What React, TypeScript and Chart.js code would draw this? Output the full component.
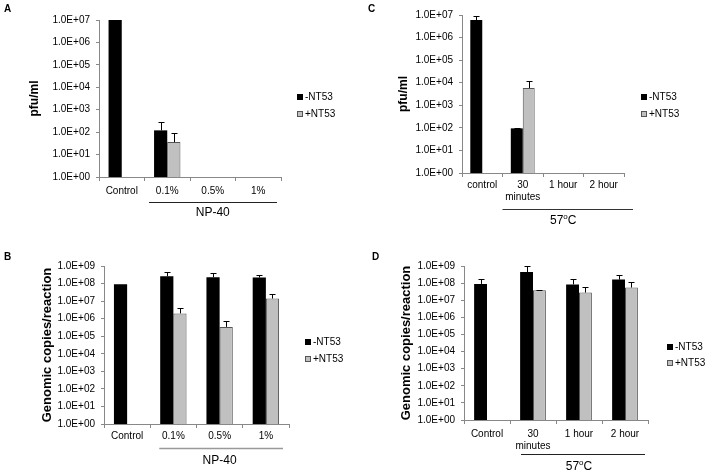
import React, { useEffect, useRef } from "react";
import { Chart, registerables } from "chart.js";

Chart.register(...registerables);

// ---------- data ----------
const SERIES_LABELS = ["-NT53", "+NT53"];

const CATS_A = ["Control", "0.1%", "0.5%", "1%"];
const A_MINUS = [1.0e7, 1.2e2, null, null];
const A_MINUS_ERR = [null, 2.8e2, null, null];
const A_PLUS = [null, 3.6e1, null, null];
const A_PLUS_ERR = [null, 9.0e1, null, null];

const CATS_B = ["Control", "0.1%", "0.5%", "1%"];
const B_MINUS = [9.2e7, 2.6e8, 2.3e8, 2.2e8];
const B_MINUS_ERR = [null, 4.5e8, 4.2e8, 3.1e8];
const B_PLUS = [null, 2.0e6, 3.4e5, 1.4e7];
const B_PLUS_ERR = [null, 4.2e6, 7.5e5, 2.7e7];

const CATS_C = ["control", ["30", "minutes"], "1 hour", "2 hour"];
const C_MINUS = [6.0e6, 9.5e1, null, null];
const C_MINUS_ERR = [9.0e6, 1.0e2, null, null];
const C_PLUS = [null, 5.8e3, null, null];
const C_PLUS_ERR = [null, 1.2e4, null, null];

const CATS_D = ["Control", ["30", "minutes"], "1 hour", "2 hour"];
const D_MINUS = [9.0e7, 4.4e8, 8.4e7, 1.6e8];
const D_MINUS_ERR = [1.8e8, 9.5e8, 1.8e8, 3.1e8];
const D_PLUS = [null, 3.8e7, 2.8e7, 5.5e7];
const D_PLUS_ERR = [null, 4.0e7, 6.0e7, 1.2e8];

const Y_TICKS_7 = [1, 1e1, 1e2, 1e3, 1e4, 1e5, 1e6, 1e7];
const Y_LABELS_7 = ["1.0E+00", "1.0E+01", "1.0E+02", "1.0E+03", "1.0E+04", "1.0E+05", "1.0E+06", "1.0E+07"];
const Y_TICKS_9 = [1, 1e1, 1e2, 1e3, 1e4, 1e5, 1e6, 1e7, 1e8, 1e9];
const Y_LABELS_9 = ["1.0E+00", "1.0E+01", "1.0E+02", "1.0E+03", "1.0E+04", "1.0E+05", "1.0E+06", "1.0E+07", "1.0E+08", "1.0E+09"];

const Y_TITLE_PFU = "pfu/ml";
const Y_TITLE_GEN = "Genomic copies/reaction";
const GROUP_NP40 = [{ t: "NP-40" }];
const GROUP_57C = [{ t: "57" }, { t: "o", sup: true }, { t: "C" }];

const FONT = "'Liberation Sans', Arial, Helvetica, sans-serif";

// ---------- plugins ----------
const errorBarPlugin = {
  id: "errorBars",
  afterDatasetsDraw(chart: any) {
    const ctx = chart.ctx;
    const ys = chart.scales.y;
    chart.data.datasets.forEach((ds: any, i: number) => {
      const errs = ds.errUpper;
      if (!errs) return;
      const meta = chart.getDatasetMeta(i);
      meta.data.forEach((bar: any, j: number) => {
        const v = ds.data[j];
        const e = errs[j];
        if (v == null || e == null) return;
        const x = Math.round(bar.x) + 0.5;
        const y0 = bar.y;
        const y1 = Math.round(ys.getPixelForValue(e)) + 0.5;
        ctx.save();
        ctx.strokeStyle = "#000";
        ctx.lineWidth = 1;
        ctx.beginPath();
        ctx.moveTo(x, y0);
        ctx.lineTo(x, y1);
        ctx.moveTo(x - 3, y1);
        ctx.lineTo(x + 3, y1);
        ctx.stroke();
        ctx.restore();
      });
    });
  },
};

const groupPlugin = {
  id: "groupBracket",
  afterDraw(chart: any, _args: any, opts: any) {
    if (!opts || !opts.parts) return;
    const ctx = chart.ctx;
    const xs = chart.scales.x;
    const half = (xs.getPixelForValue(1) - xs.getPixelForValue(0)) / 2;
    const x0 = xs.getPixelForValue(opts.from) - half + opts.insetLeft;
    const x1 = xs.getPixelForValue(opts.to) + half - opts.insetRight;
    const base = chart.chartArea.bottom;
    const ly = Math.round(base + opts.lineOffset) + 0.5;
    ctx.save();
    ctx.strokeStyle = opts.lineColor;
    ctx.lineWidth = opts.lineWidth;
    ctx.beginPath();
    ctx.moveTo(x0, ly);
    ctx.lineTo(x1, ly);
    ctx.stroke();
    // text
    const cx = (xs.getPixelForValue(opts.from) - half + xs.getPixelForValue(opts.to) + half) / 2 + (opts.textShift || 0);
    const ty = base + opts.textOffset;
    const mainFont = `12px ${FONT}`;
    const supFont = `8px ${FONT}`;
    let total = 0;
    const widths = opts.parts.map((p: any) => {
      ctx.font = p.sup ? supFont : mainFont;
      const w = ctx.measureText(p.t).width;
      total += w;
      return w;
    });
    let x = cx - total / 2;
    ctx.fillStyle = "#000";
    ctx.textBaseline = "middle";
    ctx.textAlign = "left";
    opts.parts.forEach((p: any, k: number) => {
      ctx.font = p.sup ? supFont : mainFont;
      ctx.fillText(p.t, x, p.sup ? ty - 4 : ty);
      x += widths[k];
    });
    ctx.restore();
  },
};

const legendPlugin = {
  id: "sideLegend",
  afterDraw(chart: any, _args: any, opts: any) {
    if (!opts || !opts.show) return;
    const ctx = chart.ctx;
    const bx = chart.chartArea.right + opts.dx;
    ctx.save();
    ctx.font = `10px ${FONT}`;
    ctx.textBaseline = "middle";
    ctx.textAlign = "left";
    chart.data.datasets.forEach((ds: any, i: number) => {
      const cy = opts.ys[i];
      const s = 6;
      ctx.fillStyle = ds.backgroundColor;
      ctx.fillRect(bx, cy - s / 2, s, s);
      if (ds.borderWidth) {
        ctx.strokeStyle = ds.borderColor;
        ctx.lineWidth = 1;
        ctx.strokeRect(bx + 0.5, cy - s / 2 + 0.5, s - 1, s - 1);
      }
      ctx.fillStyle = "#000";
      ctx.fillText(ds.label, bx + s + 2, cy);
    });
    ctx.restore();
  },
};

// ---------- panels ----------
type Panel = {
  key: string;
  letter: string;
  letterPos: [number, number];
  left: number;
  top: number;
  width: number;
  height: number;
  area: { l: number; t: number; r: number; b: number };
  cats: any[];
  minus: (number | null)[];
  minusErr: (number | null)[];
  plus: (number | null)[];
  plusErr: (number | null)[];
  yTicks: number[];
  yLabels: string[];
  yTitle: string;
  yTitleSize: number;
  yTitleCenter: number;
  xPad: number;
  catPct: number;
  group: any;
  legendDx: number;
  legendYs: number[];
};

const PANELS: Panel[] = [
  {
    key: "A", letter: "A", letterPos: [4, 4],
    left: 0, top: 0, width: 354, height: 237,
    area: { l: 99, t: 20, r: 281, b: 177 },
    cats: CATS_A, minus: A_MINUS, minusErr: A_MINUS_ERR, plus: A_PLUS, plusErr: A_PLUS_ERR,
    yTicks: Y_TICKS_7, yLabels: Y_LABELS_7, yTitle: Y_TITLE_PFU, yTitleSize: 12, yTitleCenter: 35,
    xPad: 4, catPct: 0.58,
    group: { parts: GROUP_NP40, from: 1, to: 3, insetLeft: 4.5, insetRight: 4, lineOffset: 25, textOffset: 36, lineColor: "#222", lineWidth: 1 },
    legendDx: 16, legendYs: [97, 114],
  },
  {
    key: "C", letter: "C", letterPos: [368, 4],
    left: 354, top: 0, width: 354, height: 237,
    area: { l: 108, t: 15, r: 270, b: 173 },
    cats: CATS_C, minus: C_MINUS, minusErr: C_MINUS_ERR, plus: C_PLUS, plusErr: C_PLUS_ERR,
    yTicks: Y_TICKS_7, yLabels: Y_LABELS_7, yTitle: Y_TITLE_PFU, yTitleSize: 12, yTitleCenter: 50,
    xPad: 2, catPct: 0.59,
    group: { parts: GROUP_57C, from: 1, to: 3, insetLeft: 0, insetRight: -9, lineOffset: 36, textOffset: 48, lineColor: "#333", lineWidth: 1, textShift: 0 },
    legendDx: 17, legendYs: [97, 114],
  },
  {
    key: "B", letter: "B", letterPos: [4, 252],
    left: 0, top: 237, width: 354, height: 237,
    area: { l: 104, t: 29, r: 289, b: 187 },
    cats: CATS_B, minus: B_MINUS, minusErr: B_MINUS_ERR, plus: B_PLUS, plusErr: B_PLUS_ERR,
    yTicks: Y_TICKS_9, yLabels: Y_LABELS_9, yTitle: Y_TITLE_GEN, yTitleSize: 13, yTitleCenter: 47,
    xPad: 2, catPct: 0.57,
    group: { parts: GROUP_NP40, from: 1, to: 3, insetLeft: 9, insetRight: 6, lineOffset: 24, textOffset: 37, lineColor: "#999", lineWidth: 1.5 },
    legendDx: 16, legendYs: [105, 122],
  },
  {
    key: "D", letter: "D", letterPos: [372, 252],
    left: 354, top: 237, width: 354, height: 237,
    area: { l: 110, t: 29, r: 294, b: 183 },
    cats: CATS_D, minus: D_MINUS, minusErr: D_MINUS_ERR, plus: D_PLUS, plusErr: D_PLUS_ERR,
    yTicks: Y_TICKS_9, yLabels: Y_LABELS_9, yTitle: Y_TITLE_GEN, yTitleSize: 13, yTitleCenter: 52,
    xPad: 4, catPct: 0.56,
    group: { parts: GROUP_57C, from: 1, to: 3, insetLeft: 11, insetRight: 3, lineOffset: 34, textOffset: 47, lineColor: "#222", lineWidth: 1 },
    legendDx: 19, legendYs: [110, 126],
  },
];

function PanelChart({ p }: { p: Panel }) {
  const ref = useRef<HTMLCanvasElement | null>(null);
  useEffect(() => {
    if (!ref.current) return;
    const lh = p.yTitleSize * 1.2;
    const chart = new Chart(ref.current, {
      type: "bar",
      data: {
        labels: p.cats,
        datasets: [
          {
            label: SERIES_LABELS[0],
            data: p.minus,
            errUpper: p.minusErr,
            backgroundColor: "#000000",
            borderColor: "#000000",
            borderWidth: 0,
            categoryPercentage: p.catPct,
            barPercentage: 1,
          } as any,
          {
            label: SERIES_LABELS[1],
            data: p.plus,
            errUpper: p.plusErr,
            backgroundColor: "#c0c0c0",
            borderColor: "#555555",
            borderWidth: 1,
            categoryPercentage: p.catPct,
            barPercentage: 1,
          } as any,
        ],
      },
      options: {
        responsive: false,
        maintainAspectRatio: false,
        animation: false,
        layout: {
          padding: { left: 0, top: p.area.t, right: p.width - p.area.r, bottom: 0 },
        },
        plugins: {
          legend: { display: false },
          tooltip: { enabled: false },
          groupBracket: p.group,
          sideLegend: { show: true, dx: p.legendDx, ys: p.legendYs },
        } as any,
        scales: {
          x: {
            type: "category",
            offset: true,
            grid: { display: true, drawOnChartArea: false, drawTicks: true, tickLength: 4, color: "#888", offset: true },
            border: { display: true, color: "#888" },
            ticks: {
              color: "#000",
              font: { family: FONT, size: 10 },
              padding: p.xPad,
              maxRotation: 0,
              autoSkip: false,
            },
            afterFit: (s: any) => {
              s.height = p.height - p.area.b;
            },
          },
          y: {
            type: "logarithmic",
            min: p.yTicks[0],
            max: p.yTicks[p.yTicks.length - 1],
            grid: { display: true, drawOnChartArea: false, drawTicks: true, tickLength: 3, color: "#888" },
            border: { display: true, color: "#888" },
            ticks: {
              color: "#000",
              font: { family: FONT, size: 10 },
              padding: 6,
              autoSkip: false,
              callback: (_v: any, i: number) => p.yLabels[i],
            },
            afterBuildTicks: (s: any) => {
              s.ticks = p.yTicks.map((v) => ({ value: v, major: true }));
            },
            afterFit: (s: any) => {
              s.width = p.area.l;
            },
            title: {
              display: true,
              text: p.yTitle,
              color: "#000",
              font: { family: FONT, size: p.yTitleSize, weight: "bold" },
              padding: { top: p.yTitleCenter - lh / 2, bottom: 0 },
            },
          } as any,
        },
      },
      plugins: [errorBarPlugin, groupPlugin, legendPlugin],
    });
    return () => chart.destroy();
  }, [p]);
  return (
    <canvas
      ref={ref}
      width={p.width}
      height={p.height}
      style={{ position: "absolute", left: p.left, top: p.top, width: p.width, height: p.height }}
    />
  );
}

export default function App() {
  return (
    <div
      style={{
        position: "absolute",
        left: 0,
        top: 0,
        width: 708,
        height: 474,
        background: "#fff",
        overflow: "hidden",
      }}
    >
      {PANELS.map((p) => (
        <PanelChart key={p.key} p={p} />
      ))}
      {PANELS.map((p) => (
        <div
          key={"l" + p.key}
          style={{
            position: "absolute",
            left: p.letterPos[0],
            top: p.letterPos[1],
            fontFamily: FONT,
            fontWeight: "bold",
            fontSize: 10,
            lineHeight: "10px",
            color: "#000",
          }}
        >
          {p.letter}
        </div>
      ))}
    </div>
  );
}
